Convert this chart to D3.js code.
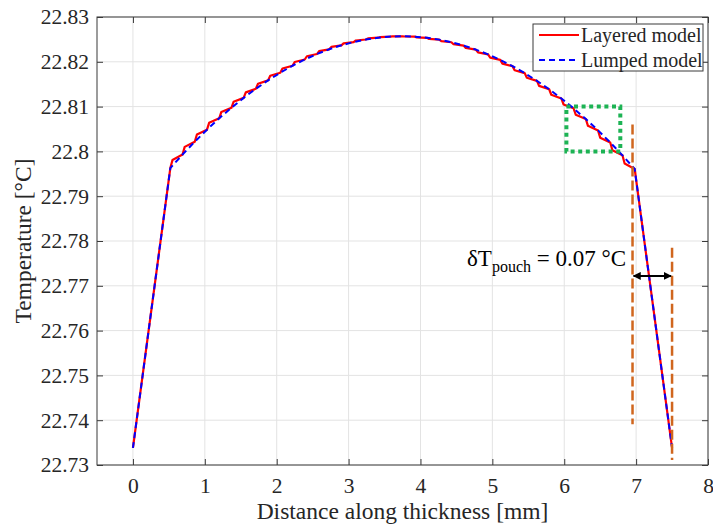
<!DOCTYPE html>
<html>
<head>
<meta charset="utf-8">
<script src="https://cdn.jsdelivr.net/npm/d3@7"></script>
<style>
  html, body { margin: 0; padding: 0; background: #fff; }
  svg { display: block; }
  svg text { font-family: "Liberation Serif", "Times New Roman", serif; }
</style>
</head>
<body>
<svg id="chart" width="713" height="527"></svg>
<script>
// Temperature profile across the cell thickness

const xTicks = [0, 1, 2, 3, 4, 5, 6, 7, 8];
const yTicks = [22.73, 22.74, 22.75, 22.76, 22.77, 22.78, 22.79, 22.8, 22.81, 22.82, 22.83];
const yTickLabels = ["22.73", "22.74", "22.75", "22.76", "22.77", "22.78", "22.79", "22.8", "22.81", "22.82", "22.83"];

// Lumped model: smooth profile, sampled at layer boundaries
const lumpedX = [0, 0.52, 0.69, 0.86, 1.03, 1.20, 1.37, 1.54, 1.71, 1.88, 2.05, 2.22, 2.39, 2.56, 2.73, 2.90,
  3.07, 3.24, 3.41, 3.58, 3.75, 3.92, 4.09, 4.26, 4.43, 4.60, 4.77, 4.94, 5.11, 5.28, 5.45, 5.62, 5.79,
  5.96, 6.13, 6.30, 6.47, 6.64, 6.81, 6.98, 7.5];
const lumpedT = [22.7338, 22.79628, 22.79930, 22.80215, 22.80485, 22.80738, 22.80974, 22.81195, 22.81398,
  22.81586, 22.81757, 22.81912, 22.82051, 22.82173, 22.82279, 22.82368, 22.82441, 22.82498, 22.82538,
  22.82562, 22.82570, 22.82561, 22.82536, 22.82495, 22.82437, 22.82363, 22.82273, 22.82166, 22.82043,
  22.81903, 22.81748, 22.81575, 22.81387, 22.81182, 22.80961, 22.80723, 22.80469, 22.80199, 22.79912,
  22.79609, 22.7338];

// Layered model: each layer boundary followed by the end of the steep step inside the layer
const layeredX = [0, 0.52, 0.55, 0.69, 0.72, 0.86, 0.89, 1.03, 1.06, 1.20, 1.23, 1.37, 1.40, 1.54, 1.57,
  1.71, 1.74, 1.88, 1.91, 2.05, 2.08, 2.22, 2.25, 2.39, 2.42, 2.56, 2.59, 2.73, 2.76, 2.90, 2.93,
  3.07, 3.10, 3.24, 3.27, 3.41, 3.44, 3.58, 3.61, 3.75, 3.78, 3.92, 3.95, 4.09, 4.12, 4.26, 4.29,
  4.43, 4.46, 4.60, 4.63, 4.77, 4.80, 4.94, 4.97, 5.11, 5.14, 5.28, 5.31, 5.45, 5.48, 5.62, 5.65,
  5.79, 5.82, 5.96, 5.99, 6.13, 6.16, 6.30, 6.33, 6.47, 6.50, 6.64, 6.67, 6.81, 6.84, 6.98, 7.5];
const layeredT = [22.7338, 22.79628, 22.79809, 22.79930, 22.80101, 22.80215, 22.80377, 22.80485, 22.80637,
  22.80738, 22.80880, 22.80974, 22.81107, 22.81195, 22.81317, 22.81398, 22.81511, 22.81586, 22.81689,
  22.81757, 22.81850, 22.81912, 22.81995, 22.82051, 22.82124, 22.82173, 22.82237, 22.82279, 22.82332,
  22.82368, 22.82412, 22.82441, 22.82475, 22.82498, 22.82522, 22.82538, 22.82552, 22.82562, 22.82567,
  22.82570, 22.82565, 22.82561, 22.82546, 22.82536, 22.82511, 22.82495, 22.82460, 22.82437, 22.82393,
  22.82363, 22.82309, 22.82273, 22.82209, 22.82166, 22.82092, 22.82043, 22.81959, 22.81903, 22.81810,
  22.81748, 22.81644, 22.81575, 22.81462, 22.81387, 22.81264, 22.81182, 22.81049, 22.80961, 22.80818,
  22.80723, 22.80571, 22.80469, 22.80307, 22.80199, 22.80027, 22.79912, 22.79730, 22.79609, 22.7338];

// Annotations (data units)
const zoomBox = { x0: 6.03, x1: 6.78, t0: 22.80, t1: 22.81 };
const pouchLeft = { x: 6.95, t0: 22.7391, t1: 22.806 };
const pouchRight = { x: 7.5, t0: 22.7311, t1: 22.7785 };
const pouchArrow = { x0: 6.95, x1: 7.5, t: 22.7722 };

const seriesNames = ["Layered model", "Lumped model"];

const svg = d3.select("#chart");
const M = { left: 97, right: 708, top: 17, bottom: 465 };

const x = d3.scaleLinear().domain([-0.5, 8]).range([M.left, M.right]);
const y = d3.scaleLinear().domain([22.73, 22.83]).range([M.bottom, M.top]);

const textColor = "#262626";
const axisColor = "#3a3a3a";

// grid
const grid = svg.append("g");
grid.selectAll(".gx").data(xTicks).join("line")
  .attr("x1", d => x(d)).attr("x2", d => x(d))
  .attr("y1", M.top).attr("y2", M.bottom)
  .attr("stroke", "#e3e3e3").attr("stroke-width", 1);
grid.selectAll(".gy").data(yTicks).join("line")
  .attr("x1", M.left).attr("x2", M.right)
  .attr("y1", d => y(d)).attr("y2", d => y(d))
  .attr("stroke", "#e3e3e3").attr("stroke-width", 1);

// axes (ticks pointing inward, mirrored on all sides)
const tickLen = 6;
const gxB = svg.append("g").attr("transform", `translate(0,${M.bottom})`)
  .call(d3.axisBottom(x).tickValues(xTicks).tickSize(-tickLen).tickPadding(14).tickFormat(d3.format("d")));
const gxT = svg.append("g").attr("transform", `translate(0,${M.top})`)
  .call(d3.axisTop(x).tickValues(xTicks).tickSize(-tickLen).tickFormat(""));
const gyL = svg.append("g").attr("transform", `translate(${M.left},0)`)
  .call(d3.axisLeft(y).tickValues(yTicks).tickSize(-tickLen).tickPadding(14)
    .tickFormat((d, i) => yTickLabels[i]));
const gyR = svg.append("g").attr("transform", `translate(${M.right},0)`)
  .call(d3.axisRight(y).tickValues(yTicks).tickSize(-tickLen).tickFormat(""));

[gxB, gxT, gyL, gyR].forEach(g => {
  g.attr("font-family", null).attr("font-size", null);
  g.select(".domain").remove();
  g.selectAll(".tick line").attr("stroke", axisColor).attr("stroke-width", 1);
  g.selectAll(".tick text").attr("fill", textColor).attr("font-size", 21.5);
});
gxB.selectAll(".tick text").attr("dy", "0.71em").attr("y", 13);
gyL.selectAll(".tick text").attr("x", -8);

// axis box
svg.append("rect")
  .attr("x", M.left).attr("y", M.top)
  .attr("width", M.right - M.left).attr("height", M.bottom - M.top)
  .attr("fill", "none").attr("stroke", axisColor).attr("stroke-width", 1);

// series lines
const lineGen = d3.line().x(d => x(d[0])).y(d => y(d[1]));
const layered = layeredX.map((v, i) => [v, layeredT[i]]);
const lumped = lumpedX.map((v, i) => [v, lumpedT[i]]);

svg.append("path").datum(layered).attr("d", lineGen)
  .attr("fill", "none").attr("stroke", "#ff0000").attr("stroke-width", 2.2)
  .attr("stroke-linejoin", "round");
svg.append("path").datum(lumped).attr("d", lineGen)
  .attr("fill", "none").attr("stroke", "#0000ff").attr("stroke-width", 2)
  .attr("stroke-dasharray", "6,4");

// green zoom box
svg.append("rect")
  .attr("x", x(zoomBox.x0)).attr("y", y(zoomBox.t1))
  .attr("width", x(zoomBox.x1) - x(zoomBox.x0)).attr("height", y(zoomBox.t0) - y(zoomBox.t1))
  .attr("fill", "none").attr("stroke", "#1db354").attr("stroke-width", 4)
  .attr("stroke-dasharray", "4,3.6");

// pouch boundary markers
[pouchLeft, pouchRight].forEach(p => {
  svg.append("line")
    .attr("x1", x(p.x)).attr("x2", x(p.x))
    .attr("y1", y(p.t1)).attr("y2", y(p.t0))
    .attr("stroke", "#d0661e").attr("stroke-width", 2.5)
    .attr("stroke-dasharray", "10,4");
});

// double-headed arrow
const defs = svg.append("defs");
defs.append("marker").attr("id", "ah").attr("viewBox", "0 0 10 10")
  .attr("refX", 9).attr("refY", 5).attr("markerWidth", 4).attr("markerHeight", 4)
  .attr("orient", "auto-start-reverse").attr("markerUnits", "strokeWidth")
  .append("path").attr("d", "M0,0 L10,5 L0,10 z").attr("fill", "#000");
svg.append("line")
  .attr("x1", x(pouchArrow.x0) + 1).attr("x2", x(pouchArrow.x1) - 1)
  .attr("y1", y(pouchArrow.t)).attr("y2", y(pouchArrow.t))
  .attr("stroke", "#000").attr("stroke-width", 2)
  .attr("marker-start", "url(#ah)").attr("marker-end", "url(#ah)");

// annotation text
const ann = svg.append("text").attr("x", 467).attr("y", 266)
  .attr("fill", "#000").attr("font-size", 23);
ann.append("tspan").text("δT");
ann.append("tspan").attr("font-size", 16).attr("dy", 6).text("pouch");
ann.append("tspan").attr("dy", -6).text(" = 0.07 °C");

// axis labels
svg.append("text").attr("x", (M.left + M.right) / 2).attr("y", 518.5)
  .attr("text-anchor", "middle").attr("fill", textColor).attr("font-size", 23.5)
  .text("Distance along thickness [mm]");
svg.append("text")
  .attr("transform", `translate(31,${(M.top + M.bottom) / 2}) rotate(-90)`)
  .attr("text-anchor", "middle").attr("fill", textColor).attr("font-size", 23.5)
  .text("Temperature [°C]");

// legend
const lg = svg.append("g");
lg.append("rect").attr("x", 533).attr("y", 24).attr("width", 170).attr("height", 47)
  .attr("fill", "#fff").attr("stroke", axisColor).attr("stroke-width", 1);
const legendRows = [
  { name: seriesNames[0], color: "#ff0000", dash: null, yy: 35 },
  { name: seriesNames[1], color: "#0000ff", dash: "6,4", yy: 60 }
];
legendRows.forEach(r => {
  lg.append("line").attr("x1", 539).attr("x2", 579).attr("y1", r.yy).attr("y2", r.yy)
    .attr("stroke", r.color).attr("stroke-width", 2)
    .attr("stroke-dasharray", r.dash);
  lg.append("text").attr("x", 581).attr("y", r.yy + 7).attr("fill", textColor)
    .attr("font-size", 20).text(r.name);
});
</script>
</body>
</html>
